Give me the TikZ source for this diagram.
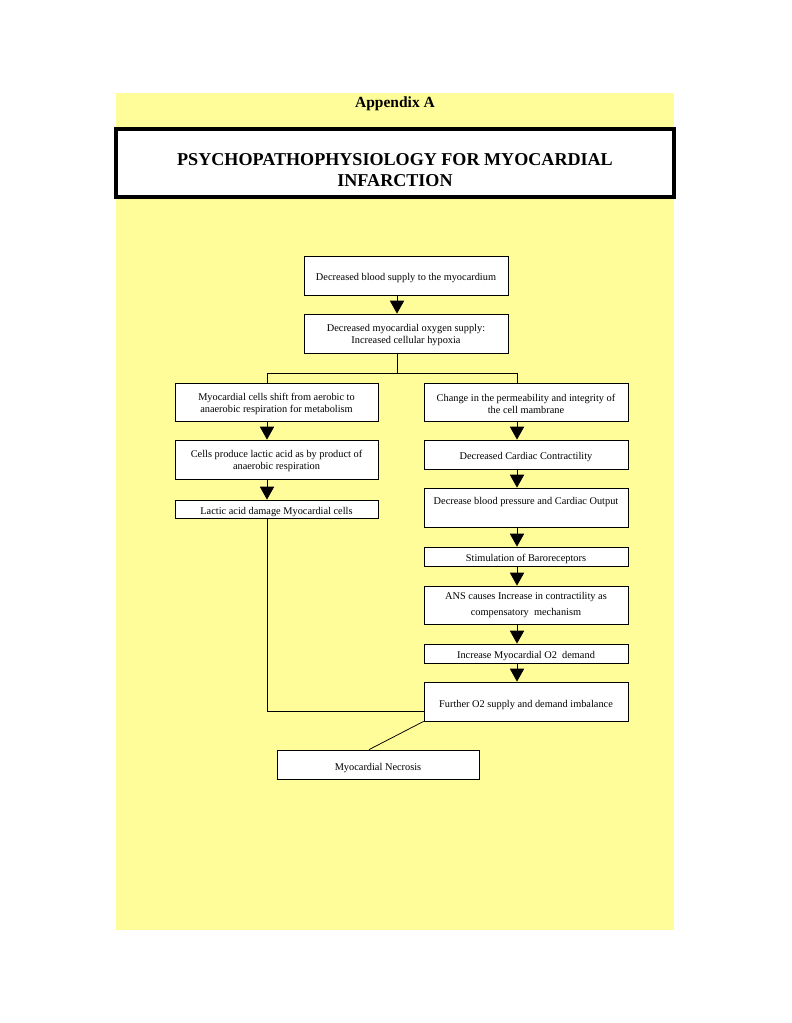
\documentclass[tikz,border=0pt]{standalone}
\usepackage{fontspec}
\setmainfont{Liberation Serif}
\usetikzlibrary{arrows.meta,calc}
\definecolor{bgyellow}{HTML}{FFFD99}
\tikzset{
  flowbox/.style 2 args={draw=black, line width=0.6pt, fill=white, rectangle, inner sep=0pt,
    minimum width=#1*0.7737pt, minimum height=#2*0.7737pt, align=center,
    font=\fontsize{8}{9.5}\selectfont},
  oneline/.style={text height=0.85em, text depth=0pt},
  link/.style={draw=black, line width=0.6pt},
  arr/.style={link, -{Triangle[length=10pt, width=11pt]}}
}
\begin{document}
\begin{tikzpicture}[x=0.7737pt, y=-0.7737pt]
\useasboundingbox (0,0) rectangle (791,1023);
\fill[white] (0,0) rectangle (791,1023);
\fill[bgyellow] (116,93) rectangle (674,930);
\node[font=\fontsize{12}{14}\selectfont\bfseries] (app) at (395,104) {Appendix A};
\draw[line width=3.1pt, fill=white] (116,129) rectangle (674,197);
\node[font=\fontsize{14}{16.2}\selectfont\bfseries, align=center] (title) at (395,170)
  {PSYCHOPATHOPHYSIOLOGY FOR MYOCARDIAL\\INFARCTION};

\node[flowbox={204}{39}, oneline] (b1) at (406,275.5) {Decreased blood supply to the myocardium};
\node[flowbox={204}{39}] (b2) at (406,333.5) {\rule{0pt}{1.05em}Decreased myocardial oxygen supply:\\Increased cellular hypoxia};

\node[flowbox={203}{38}] (L1) at (276.5,402) {\rule{0pt}{1.05em}Myocardial cells shift from aerobic to\\anaerobic respiration for metabolism};
\node[flowbox={203}{39}] (L2) at (276.5,459.5) {\rule{0pt}{1.05em}Cells produce lactic acid as by product of\\anaerobic respiration};
\node[flowbox={203}{18}, oneline] (L3) at (276.5,509) {Lactic acid damage Myocardial cells};

\node[flowbox={204}{38}] (R1) at (526,402) {\rule{0pt}{1.05em}Change in the permeability and integrity of\\the cell mambrane};
\node[flowbox={204}{29}, oneline] (R2) at (526,454.5) {Decreased Cardiac Contractility};
\node[flowbox={204}{39}] (R3) at (526,507.5) {Decrease blood pressure and Cardiac Output\\\mbox{}};
\node[flowbox={204}{19}, oneline] (R4) at (526,556.5) {Stimulation of Baroreceptors};
\node[flowbox={204}{38}, font=\fontsize{8}{12.4}\selectfont] (R5) at (526,605) {ANS causes Increase in contractility as\\compensatory\ \ mechanism};
\node[flowbox={204}{19}, oneline] (R6) at (526,653.5) {Increase Myocardial O2\ \ demand};
\node[flowbox={204}{39}, oneline] (R7) at (526,701.5) {Further O2 supply and demand imbalance};

\node[flowbox={202}{29}, oneline] (nec) at (378,764.5) {Myocardial Necrosis};

\coordinate (cA) at (397,373);
\coordinate (cL) at (267,373);
\coordinate (cR) at (517,373);

\draw[arr] (b1.south -| cA) -- (b2.north -| cA);
\draw[link] (b2.south -| cA) -- (cA);
\draw[link] (cL) -- (cR);
\draw[link] (cL) -- (L1.north -| cL);
\draw[link] (cR) -- (R1.north -| cR);

\draw[arr] (L1.south -| cL) -- (L2.north -| cL);
\draw[arr] (L2.south -| cL) -- (L3.north -| cL);

\draw[arr] (R1.south -| cR) -- (R2.north -| cR);
\draw[arr] (R2.south -| cR) -- (R3.north -| cR);
\draw[arr] (R3.south -| cR) -- (R4.north -| cR);
\draw[arr] (R4.south -| cR) -- (R5.north -| cR);
\draw[arr] (R5.south -| cR) -- (R6.north -| cR);
\draw[arr] (R6.south -| cR) -- (R7.north -| cR);

\draw[link] (L3.south -| cL) |- ($(R7.west)+(0,9.5)$);
\draw[link] (R7.south west) -- ($(nec.north)+(-9,0)$);
\end{tikzpicture}
\end{document}
